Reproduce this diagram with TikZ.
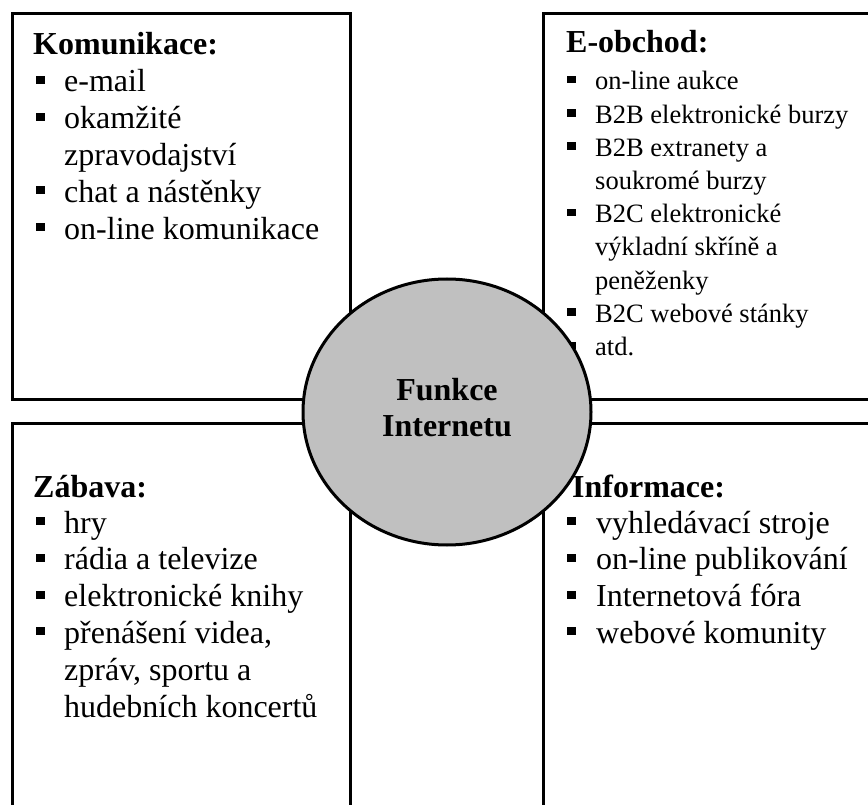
\documentclass[tikz,border=0pt]{standalone}
\usepackage{fontspec}
\setmainfont{Liberation Serif}
\begin{document}
\begin{tikzpicture}[x=1pt,y=-1pt,
  frame/.style={draw=black,line width=3pt},
  hub/.style={draw=black,line width=3pt,fill=hubgray},
  title/.style={anchor=base west,inner sep=0pt,font=\fontsize{32}{36.6}\selectfont\bfseries},
  big/.style={anchor=base west,inner sep=0pt,font=\fontsize{32}{36.8}\selectfont},
  small/.style={anchor=base west,inner sep=0pt,font=\fontsize{26.5}{33.2}\selectfont},
  hubtext/.style={align=center,inner sep=0pt,font=\fontsize{32}{36}\selectfont\bfseries}]
\definecolor{hubgray}{HTML}{C0C0C0}
\useasboundingbox (0,0) rectangle (868,805);
\begin{scope}
\clip (0,0) rectangle (868,805);

% four panels (the right and lower ones run off the page)
\draw[frame] (12,13.5) rectangle (350,399.5);
\draw[frame] (543,13.5) rectangle (900,399.5);
\draw[frame] (12,423.5) rectangle (350,840);
\draw[frame] (543,423.5) rectangle (900,840);

% Komunikace
\node[title] (kom) at (33,55) {Komunikace:};
\foreach \y in {92,128.8,202.4,239.2} {\fill (36,\y-16) rectangle ++(9,8);}
\node[big] (k1)  at (64,92)    {e-mail};
\node[big] (k2)  at (64,128.8) {okamžité};
\node[big] (k2b) at (64,165.6) {zpravodajství};
\node[big] (k3)  at (64,202.4) {chat a nástěnky};
\node[big] (k4)  at (64,239.2) {on-line komunikace};

% E-obchod
\node[title] (eob) at (566,53) {E-obchod:};
\foreach \y in {90,123.2,156.4,222.8,322.4,355.6} {\fill (567,\y-14) rectangle ++(8.5,7.5);}
\node[small] (e1)  at (595,90)    {on-line aukce};
\node[small] (e2)  at (595,123.2) {B2B elektronické burzy};
\node[small] (e3)  at (595,156.4) {B2B extranety a};
\node[small] (e3b) at (595,189.6) {soukromé burzy};
\node[small] (e4)  at (595,222.8) {B2C elektronické};
\node[small] (e4b) at (595,256)   {výkladní skříně a};
\node[small] (e4c) at (595,289.2) {peněženky};
\node[small] (e5)  at (595,322.4) {B2C webové stánky};
\node[small] (e6)  at (595,355.6) {atd.};

% Zábava
\node[title] (zab) at (33,497) {Zábava:};
\foreach \y in {533,569.8,606.6,643.4} {\fill (36,\y-16) rectangle ++(9,8);}
\node[big] (z1)  at (64,533)   {hry};
\node[big] (z2)  at (64,569.8) {rádia a televize};
\node[big] (z3)  at (64,606.6) {elektronické knihy};
\node[big] (z4)  at (64,643.4) {přenášení videa,};
\node[big] (z4b) at (64,680.2) {zpráv, sportu a};
\node[big] (z4c) at (64,717)   {hudebních koncertů};

% central hub
\draw[hub] (447,412) ellipse [x radius=144,y radius=133];
\node[hubtext] (hub) at (447,408) {Funkce\\Internetu};

% Informace
\node[title] (inf) at (572,497) {Informace:};
\foreach \y in {533,569.8,606.6,643.4} {\fill (567,\y-16) rectangle ++(9,8);}
\node[big] (i1) at (596,533)   {vyhledávací stroje};
\node[big] (i2) at (596,569.8) {on-line publikování};
\node[big] (i3) at (596,606.6) {Internetová fóra};
\node[big] (i4) at (596,643.4) {webové komunity};
\end{scope}
\end{tikzpicture}
\end{document}
